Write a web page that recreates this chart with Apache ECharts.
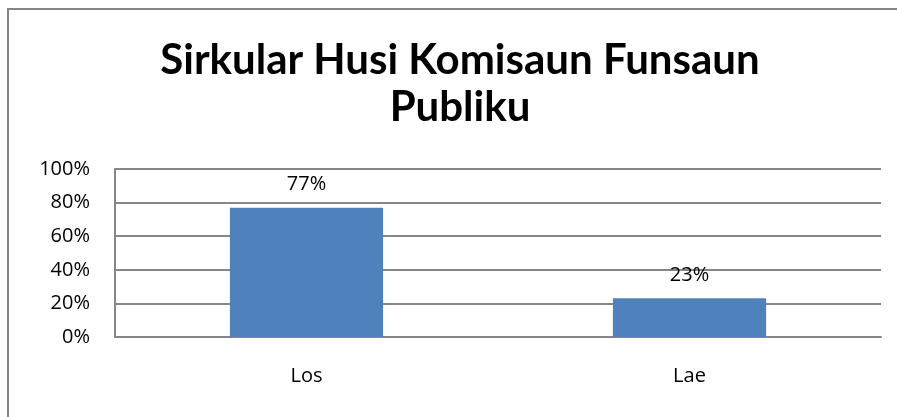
<!DOCTYPE html>
<html>
<head>
<meta charset="utf-8">
<script src="https://cdn.jsdelivr.net/npm/echarts@6/dist/echarts.min.js"></script>
<style>
html,body{margin:0;padding:0;background:#fff;}
#chart{width:897px;height:417px;}
</style>
</head>
<body>
<div id="chart"></div>
<script>
var titleText = 'Sirkular Husi Komisaun Funsaun\nPubliku';
var categories = ['Los', 'Lae'];
var values = [0.77, 0.23];
var yTicks = [0, 0.2, 0.4, 0.6, 0.8, 1.0];

var gray = '#868686';
var chart = echarts.init(document.getElementById('chart'));
chart.setOption({
  animation: false,
  backgroundColor: '#ffffff',
  graphic: [{
    type: 'rect',
    shape: { x: 8, y: 9, width: 2000, height: 2000 },
    style: { fill: 'none', stroke: gray, lineWidth: 2 },
    silent: true
  }],
  title: {
    text: titleText,
    left: 455,
    textAlign: 'center',
    top: 32,
    textStyle: {
      fontFamily: 'Lato',
      fontWeight: 'bold',
      fontSize: 42,
      lineHeight: 47,
      color: '#000'
    }
  },
  grid: { left: 115, right: 16, top: 169, bottom: 80 },
  xAxis: {
    type: 'category',
    data: categories,
    axisLine: { show: true, lineStyle: { color: gray, width: 2 } },
    axisTick: { show: false },
    axisLabel: { margin: 29, fontFamily: 'Open Sans', fontSize: 20, color: '#000' }
  },
  yAxis: {
    type: 'value',
    min: yTicks[0],
    max: yTicks[yTicks.length - 1],
    interval: yTicks[1] - yTicks[0],
    axisLine: { show: true, lineStyle: { color: gray, width: 2 } },
    axisTick: { show: false },
    splitLine: { show: true, lineStyle: { color: gray, width: 2 } },
    axisLabel: {
      margin: 25,
      fontFamily: 'Open Sans',
      fontSize: 20,
      color: '#000',
      formatter: function (v) { return Math.round(v * 100) + '%'; }
    }
  },
  series: [{
    type: 'bar',
    data: values,
    barWidth: '40%',
    itemStyle: { color: '#4F81BD' },
    label: {
      show: true,
      position: 'top',
      distance: 13,
      fontFamily: 'Open Sans',
      fontSize: 20,
      color: '#000',
      formatter: function (p) { return Math.round(p.value * 100) + '%'; }
    }
  }]
});
</script>
</body>
</html>
